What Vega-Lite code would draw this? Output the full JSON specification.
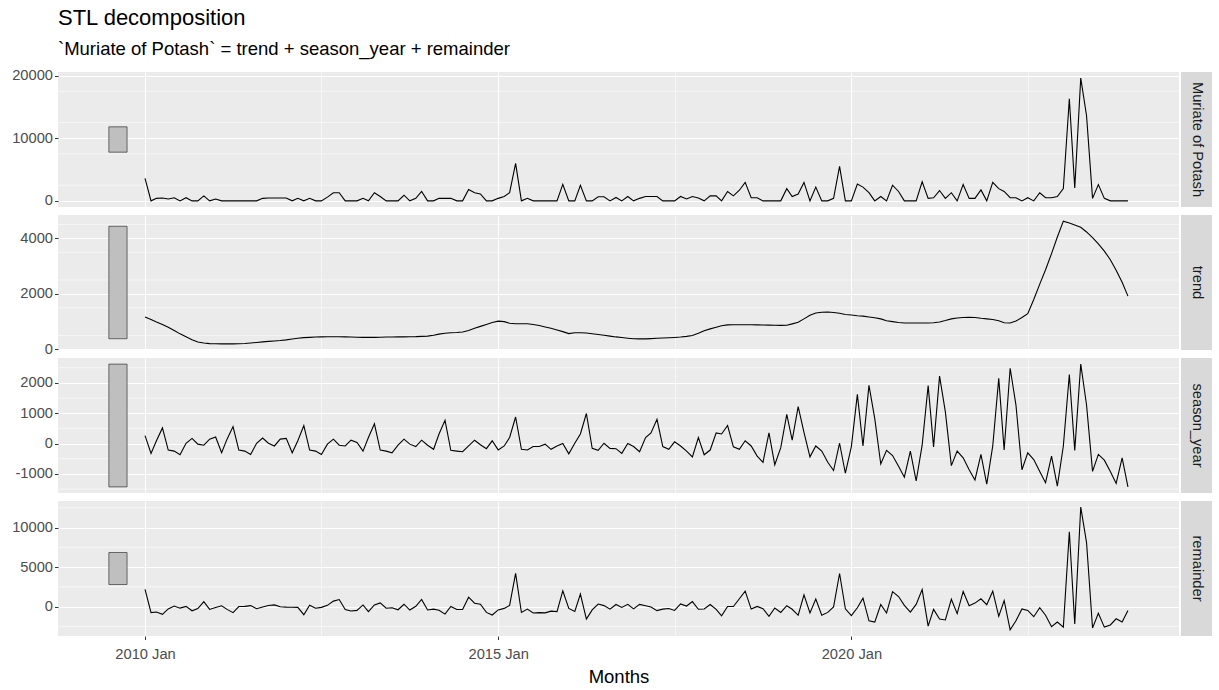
{
  "$schema": "https://vega.github.io/schema/vega-lite/v6.json",
  "background": "white",
  "padding": {"left": 11, "top": 7, "right": 4, "bottom": 4},
  "title": {"text": "STL decomposition", "subtitle": "`Muriate of Potash` = trend + season_year + remainder", "anchor": "start", "frame": "group", "font": "Liberation Sans", "fontSize": 22, "fontWeight": "normal", "color": "#000000", "subtitleFont": "Liberation Sans", "subtitleFontSize": 18.5, "subtitleColor": "#000000", "subtitlePadding": 10, "offset": 8},
  "datasets": {
    "main": [
      {"d":"2010-01-01","m":3600,"t":1170,"s":260,"r":2170},
      {"d":"2010-02-01","m":0,"t":1080,"s":-325,"r":-755},
      {"d":"2010-03-01","m":400,"t":990,"s":90,"r":-680},
      {"d":"2010-04-01","m":450,"t":900,"s":515,"r":-965},
      {"d":"2010-05-01","m":300,"t":800,"s":-215,"r":-285},
      {"d":"2010-06-01","m":500,"t":680,"s":-250,"r":70},
      {"d":"2010-07-01","m":0,"t":560,"s":-370,"r":-190},
      {"d":"2010-08-01","m":500,"t":460,"s":10,"r":30},
      {"d":"2010-09-01","m":0,"t":350,"s":170,"r":-520},
      {"d":"2010-10-01","m":0,"t":270,"s":-20,"r":-250},
      {"d":"2010-11-01","m":800,"t":230,"s":-55,"r":625},
      {"d":"2010-12-01","m":0,"t":210,"s":145,"r":-355},
      {"d":"2011-01-01","m":300,"t":205,"s":215,"r":-120},
      {"d":"2011-02-01","m":0,"t":200,"s":-305,"r":105},
      {"d":"2011-03-01","m":0,"t":200,"s":145,"r":-345},
      {"d":"2011-04-01","m":0,"t":200,"s":560,"r":-760},
      {"d":"2011-05-01","m":0,"t":205,"s":-215,"r":10},
      {"d":"2011-06-01","m":0,"t":215,"s":-250,"r":35},
      {"d":"2011-07-01","m":0,"t":230,"s":-360,"r":130},
      {"d":"2011-08-01","m":0,"t":250,"s":10,"r":-260},
      {"d":"2011-09-01","m":400,"t":270,"s":180,"r":-50},
      {"d":"2011-10-01","m":450,"t":290,"s":10,"r":150},
      {"d":"2011-11-01","m":450,"t":305,"s":-80,"r":225},
      {"d":"2011-12-01","m":450,"t":320,"s":145,"r":-15},
      {"d":"2012-01-01","m":450,"t":345,"s":170,"r":-65},
      {"d":"2012-02-01","m":0,"t":375,"s":-305,"r":-70},
      {"d":"2012-03-01","m":400,"t":405,"s":90,"r":-95},
      {"d":"2012-04-01","m":0,"t":425,"s":595,"r":-1020},
      {"d":"2012-05-01","m":400,"t":435,"s":-215,"r":180},
      {"d":"2012-06-01","m":0,"t":445,"s":-250,"r":-195},
      {"d":"2012-07-01","m":0,"t":450,"s":-360,"r":-90},
      {"d":"2012-08-01","m":600,"t":455,"s":-20,"r":165},
      {"d":"2012-09-01","m":1300,"t":455,"s":145,"r":700},
      {"d":"2012-10-01","m":1300,"t":455,"s":-55,"r":900},
      {"d":"2012-11-01","m":0,"t":450,"s":-80,"r":-370},
      {"d":"2012-12-01","m":0,"t":445,"s":110,"r":-555},
      {"d":"2013-01-01","m":0,"t":440,"s":35,"r":-475},
      {"d":"2013-02-01","m":400,"t":435,"s":-250,"r":215},
      {"d":"2013-03-01","m":0,"t":435,"s":200,"r":-635},
      {"d":"2013-04-01","m":1300,"t":435,"s":650,"r":215},
      {"d":"2013-05-01","m":700,"t":440,"s":-215,"r":475},
      {"d":"2013-06-01","m":0,"t":445,"s":-250,"r":-195},
      {"d":"2013-07-01","m":0,"t":445,"s":-305,"r":-140},
      {"d":"2013-08-01","m":0,"t":450,"s":-55,"r":-395},
      {"d":"2013-09-01","m":900,"t":450,"s":145,"r":305},
      {"d":"2013-10-01","m":0,"t":455,"s":-20,"r":-435},
      {"d":"2013-11-01","m":400,"t":460,"s":-100,"r":40},
      {"d":"2013-12-01","m":1500,"t":470,"s":110,"r":920},
      {"d":"2014-01-01","m":0,"t":480,"s":-55,"r":-425},
      {"d":"2014-02-01","m":0,"t":510,"s":-190,"r":-320},
      {"d":"2014-03-01","m":400,"t":550,"s":315,"r":-465},
      {"d":"2014-04-01","m":400,"t":580,"s":765,"r":-945},
      {"d":"2014-05-01","m":400,"t":600,"s":-225,"r":25},
      {"d":"2014-06-01","m":0,"t":610,"s":-250,"r":-360},
      {"d":"2014-07-01","m":0,"t":630,"s":-270,"r":-360},
      {"d":"2014-08-01","m":1800,"t":680,"s":-80,"r":1200},
      {"d":"2014-09-01","m":1300,"t":760,"s":110,"r":430},
      {"d":"2014-10-01","m":1100,"t":830,"s":-40,"r":310},
      {"d":"2014-11-01","m":0,"t":900,"s":-170,"r":-730},
      {"d":"2014-12-01","m":0,"t":970,"s":90,"r":-1060},
      {"d":"2015-01-01","m":400,"t":1020,"s":-210,"r":-410},
      {"d":"2015-02-01","m":700,"t":1000,"s":-80,"r":-220},
      {"d":"2015-03-01","m":1300,"t":940,"s":200,"r":160},
      {"d":"2015-04-01","m":6000,"t":925,"s":875,"r":4200},
      {"d":"2015-05-01","m":0,"t":925,"s":-190,"r":-735},
      {"d":"2015-06-01","m":400,"t":925,"s":-215,"r":-310},
      {"d":"2015-07-01","m":0,"t":900,"s":-100,"r":-800},
      {"d":"2015-08-01","m":0,"t":860,"s":-100,"r":-760},
      {"d":"2015-09-01","m":0,"t":810,"s":-20,"r":-790},
      {"d":"2015-10-01","m":0,"t":760,"s":-190,"r":-570},
      {"d":"2015-11-01","m":0,"t":700,"s":-80,"r":-620},
      {"d":"2015-12-01","m":2650,"t":640,"s":0,"r":2010},
      {"d":"2016-01-01","m":0,"t":570,"s":-340,"r":-230},
      {"d":"2016-02-01","m":0,"t":600,"s":10,"r":-610},
      {"d":"2016-03-01","m":2500,"t":600,"s":315,"r":1585},
      {"d":"2016-04-01","m":0,"t":590,"s":990,"r":-1580},
      {"d":"2016-05-01","m":0,"t":565,"s":-160,"r":-405},
      {"d":"2016-06-01","m":650,"t":540,"s":-225,"r":335},
      {"d":"2016-07-01","m":650,"t":510,"s":10,"r":130},
      {"d":"2016-08-01","m":0,"t":480,"s":-160,"r":-320},
      {"d":"2016-09-01","m":550,"t":450,"s":-170,"r":270},
      {"d":"2016-10-01","m":0,"t":430,"s":-325,"r":-105},
      {"d":"2016-11-01","m":700,"t":405,"s":0,"r":295},
      {"d":"2016-12-01","m":0,"t":385,"s":-100,"r":-285},
      {"d":"2017-01-01","m":400,"t":380,"s":-270,"r":290},
      {"d":"2017-02-01","m":700,"t":380,"s":200,"r":120},
      {"d":"2017-03-01","m":700,"t":390,"s":350,"r":-40},
      {"d":"2017-04-01","m":700,"t":400,"s":800,"r":-500},
      {"d":"2017-05-01","m":0,"t":410,"s":-100,"r":-310},
      {"d":"2017-06-01","m":0,"t":420,"s":-190,"r":-230},
      {"d":"2017-07-01","m":0,"t":430,"s":55,"r":-485},
      {"d":"2017-08-01","m":700,"t":445,"s":-80,"r":335},
      {"d":"2017-09-01","m":300,"t":470,"s":-250,"r":80},
      {"d":"2017-10-01","m":700,"t":500,"s":-440,"r":640},
      {"d":"2017-11-01","m":450,"t":580,"s":200,"r":-330},
      {"d":"2017-12-01","m":0,"t":670,"s":-370,"r":-300},
      {"d":"2018-01-01","m":800,"t":740,"s":-215,"r":275},
      {"d":"2018-02-01","m":800,"t":800,"s":350,"r":-350},
      {"d":"2018-03-01","m":0,"t":850,"s":315,"r":-1165},
      {"d":"2018-04-01","m":1500,"t":885,"s":595,"r":20},
      {"d":"2018-05-01","m":800,"t":890,"s":-110,"r":20},
      {"d":"2018-06-01","m":1700,"t":890,"s":-190,"r":1000},
      {"d":"2018-07-01","m":2950,"t":890,"s":90,"r":1970},
      {"d":"2018-08-01","m":500,"t":890,"s":-80,"r":-310},
      {"d":"2018-09-01","m":500,"t":885,"s":-415,"r":30},
      {"d":"2018-10-01","m":0,"t":880,"s":-620,"r":-260},
      {"d":"2018-11-01","m":0,"t":875,"s":350,"r":-1225},
      {"d":"2018-12-01","m":0,"t":870,"s":-700,"r":-170},
      {"d":"2019-01-01","m":0,"t":865,"s":-135,"r":-730},
      {"d":"2019-02-01","m":1950,"t":870,"s":965,"r":115},
      {"d":"2019-03-01","m":700,"t":920,"s":110,"r":-330},
      {"d":"2019-04-01","m":1100,"t":975,"s":1215,"r":-1090},
      {"d":"2019-05-01","m":2950,"t":1100,"s":370,"r":1480},
      {"d":"2019-06-01","m":0,"t":1230,"s":-440,"r":-790},
      {"d":"2019-07-01","m":2200,"t":1310,"s":-80,"r":970},
      {"d":"2019-08-01","m":0,"t":1340,"s":-250,"r":-1090},
      {"d":"2019-09-01","m":0,"t":1345,"s":-620,"r":-725},
      {"d":"2019-10-01","m":400,"t":1330,"s":-890,"r":-40},
      {"d":"2019-11-01","m":5500,"t":1300,"s":10,"r":4190},
      {"d":"2019-12-01","m":0,"t":1260,"s":-980,"r":-280},
      {"d":"2020-01-01","m":0,"t":1240,"s":-100,"r":-1140},
      {"d":"2020-02-01","m":2700,"t":1215,"s":1620,"r":-135},
      {"d":"2020-03-01","m":2200,"t":1200,"s":-80,"r":1080},
      {"d":"2020-04-01","m":1300,"t":1170,"s":1920,"r":-1790},
      {"d":"2020-05-01","m":0,"t":1140,"s":820,"r":-1960},
      {"d":"2020-06-01","m":700,"t":1100,"s":-675,"r":275},
      {"d":"2020-07-01","m":0,"t":1030,"s":-225,"r":-805},
      {"d":"2020-08-01","m":2500,"t":1000,"s":-395,"r":1895},
      {"d":"2020-09-01","m":1500,"t":970,"s":-750,"r":1280},
      {"d":"2020-10-01","m":0,"t":950,"s":-1110,"r":160},
      {"d":"2020-11-01","m":0,"t":950,"s":-250,"r":-700},
      {"d":"2020-12-01","m":0,"t":950,"s":-1235,"r":285},
      {"d":"2021-01-01","m":3050,"t":950,"s":-55,"r":2155},
      {"d":"2021-02-01","m":400,"t":950,"s":1910,"r":-2460},
      {"d":"2021-03-01","m":500,"t":960,"s":-110,"r":-350},
      {"d":"2021-04-01","m":1650,"t":990,"s":2225,"r":-1565},
      {"d":"2021-05-01","m":400,"t":1040,"s":1045,"r":-1685},
      {"d":"2021-06-01","m":1300,"t":1100,"s":-730,"r":930},
      {"d":"2021-07-01","m":0,"t":1130,"s":-250,"r":-880},
      {"d":"2021-08-01","m":2600,"t":1150,"s":-470,"r":1920},
      {"d":"2021-09-01","m":400,"t":1160,"s":-865,"r":105},
      {"d":"2021-10-01","m":400,"t":1150,"s":-1200,"r":450},
      {"d":"2021-11-01","m":1750,"t":1120,"s":-360,"r":990},
      {"d":"2021-12-01","m":0,"t":1100,"s":-1340,"r":240},
      {"d":"2022-01-01","m":2950,"t":1075,"s":-80,"r":1955},
      {"d":"2022-02-01","m":1950,"t":1030,"s":2150,"r":-1230},
      {"d":"2022-03-01","m":1500,"t":960,"s":-215,"r":755},
      {"d":"2022-04-01","m":500,"t":950,"s":2485,"r":-2935},
      {"d":"2022-05-01","m":500,"t":1020,"s":1270,"r":-1790},
      {"d":"2022-06-01","m":0,"t":1150,"s":-865,"r":-285},
      {"d":"2022-07-01","m":500,"t":1290,"s":-305,"r":-485},
      {"d":"2022-08-01","m":0,"t":1800,"s":-530,"r":-1270},
      {"d":"2022-09-01","m":1300,"t":2350,"s":-920,"r":-130},
      {"d":"2022-10-01","m":500,"t":2870,"s":-1290,"r":-1080},
      {"d":"2022-11-01","m":500,"t":3450,"s":-415,"r":-2535},
      {"d":"2022-12-01","m":700,"t":4050,"s":-1405,"r":-1945},
      {"d":"2023-01-01","m":1950,"t":4620,"s":-80,"r":-2590},
      {"d":"2023-02-01","m":16300,"t":4550,"s":2280,"r":9470},
      {"d":"2023-03-01","m":2050,"t":4480,"s":-225,"r":-2205},
      {"d":"2023-04-01","m":19600,"t":4400,"s":2620,"r":12580},
      {"d":"2023-05-01","m":13600,"t":4230,"s":1270,"r":8100},
      {"d":"2023-06-01","m":400,"t":4030,"s":-920,"r":-2710},
      {"d":"2023-07-01","m":2600,"t":3800,"s":-360,"r":-840},
      {"d":"2023-08-01","m":400,"t":3540,"s":-550,"r":-2590},
      {"d":"2023-09-01","m":0,"t":3230,"s":-920,"r":-2310},
      {"d":"2023-10-01","m":0,"t":2850,"s":-1315,"r":-1535},
      {"d":"2023-11-01","m":0,"t":2420,"s":-470,"r":-1950},
      {"d":"2023-12-01","m":0,"t":1920,"s":-1430,"r":-490}
    ],
    "bars": [
      {"k":"m","x1":"2009-06-28","x2":"2009-09-30","y1":7775,"y2":11825},
      {"k":"t","x1":"2009-06-28","x2":"2009-09-30","y1":385,"y2":4435},
      {"k":"s","x1":"2009-06-28","x2":"2009-09-30","y1":-1430,"y2":2620},
      {"k":"r","x1":"2009-06-28","x2":"2009-09-30","y1":2797,"y2":6847}
    ],
    "hminor": [
      {"k":"m","v":2500},{"k":"m","v":7500},{"k":"m","v":12500},{"k":"m","v":17500},
      {"k":"t","v":500},{"k":"t","v":1500},{"k":"t","v":2500},{"k":"t","v":3500},{"k":"t","v":4500},
      {"k":"s","v":-1500},{"k":"s","v":-500},{"k":"s","v":500},{"k":"s","v":1500},{"k":"s","v":2500},
      {"k":"r","v":-2500},{"k":"r","v":2500},{"k":"r","v":7500},{"k":"r","v":12500}
    ],
    "strips": [
      {"k":"m","label":"Muriate of Potash"},
      {"k":"t","label":"trend"},
      {"k":"s","label":"season_year"},
      {"k":"r","label":"remainder"}
    ]
  },
  "columns": 2,
  "spacing": {"row": 8, "column": 2},
  "bounds": "flush",
  "concat": [
    {
      "width": 1121, "height": 135,
      "layer": [
        {
          "data": {"name": "hminor"},
          "transform": [{"filter": "datum.k == 'm'"}],
          "mark": {"type": "rule", "color": "#FFFFFF", "strokeWidth": 0.55},
          "encoding": {"y": {"field": "v", "type": "quantitative"}}
        },
        {
          "data": {"name": "bars"},
          "transform": [{"filter": "datum.k == 'm'"}],
          "mark": {"type": "rect", "fill": "#BFBFBF", "stroke": "#333333", "strokeWidth": 0.7},
          "encoding": {
            "x": {"field": "x1", "type": "temporal", "scale": {"type": "utc", "domain": [{"year": 2008, "month": 10, "date": 8, "utc": true}, {"year": 2024, "month": 8, "date": 21, "utc": true}]}, "axis": {"values": [{"year": 2010, "month": 1, "date": 1, "utc": true}, {"year": 2012, "month": 7, "date": 1, "utc": true}, {"year": 2015, "month": 1, "date": 1, "utc": true}, {"year": 2017, "month": 7, "date": 1, "utc": true}, {"year": 2020, "month": 1, "date": 1, "utc": true}, {"year": 2022, "month": 7, "date": 1, "utc": true}], "labels": false, "ticks": false, "title": null, "gridWidth": {"condition": {"test": "utcmonth(datum.value) == 0", "value": 1.1}, "value": 0.55}}},
            "x2": {"field": "x2"},
            "y": {"field": "y1", "type": "quantitative", "scale": {"domain": [-980, 20580], "nice": false, "zero": false}, "axis": {"values": [0, 5000, 10000, 15000, 20000], "format": "d", "title": null}},
            "y2": {"field": "y2"}
          }
        },
        {
          "data": {"name": "main"},
          "mark": {"type": "line", "color": "#000000", "strokeWidth": 1.1},
          "encoding": {
            "x": {"field": "d", "type": "temporal"},
            "y": {"field": "m", "type": "quantitative"}
          }
        }
      ]
    },
    {
      "width": 31, "height": 135,
      "view": {"fill": "#D9D9D9", "stroke": null},
      "data": {"name": "strips"},
      "transform": [{"filter": "datum.k == 'm'"}],
      "mark": {"type": "text", "angle": 90, "font": "Liberation Sans", "fontSize": 14.7, "color": "#1A1A1A", "align": "center", "baseline": "middle"},
      "encoding": {"text": {"field": "label"}}
    },
    {
      "width": 1121, "height": 135,
      "layer": [
        {
          "data": {"name": "hminor"},
          "transform": [{"filter": "datum.k == 't'"}],
          "mark": {"type": "rule", "color": "#FFFFFF", "strokeWidth": 0.55},
          "encoding": {"y": {"field": "v", "type": "quantitative"}}
        },
        {
          "data": {"name": "bars"},
          "transform": [{"filter": "datum.k == 't'"}],
          "mark": {"type": "rect", "fill": "#BFBFBF", "stroke": "#333333", "strokeWidth": 0.7},
          "encoding": {
            "x": {"field": "x1", "type": "temporal", "scale": {"type": "utc", "domain": [{"year": 2008, "month": 10, "date": 8, "utc": true}, {"year": 2024, "month": 8, "date": 21, "utc": true}]}, "axis": {"values": [{"year": 2010, "month": 1, "date": 1, "utc": true}, {"year": 2012, "month": 7, "date": 1, "utc": true}, {"year": 2015, "month": 1, "date": 1, "utc": true}, {"year": 2017, "month": 7, "date": 1, "utc": true}, {"year": 2020, "month": 1, "date": 1, "utc": true}, {"year": 2022, "month": 7, "date": 1, "utc": true}], "labels": false, "ticks": false, "title": null, "gridWidth": {"condition": {"test": "utcmonth(datum.value) == 0", "value": 1.1}, "value": 0.55}}},
            "x2": {"field": "x2"},
            "y": {"field": "y1", "type": "quantitative", "scale": {"domain": [-21, 4841], "nice": false, "zero": false}, "axis": {"values": [0, 1000, 2000, 3000, 4000], "format": "d", "title": null}},
            "y2": {"field": "y2"}
          }
        },
        {
          "data": {"name": "main"},
          "mark": {"type": "line", "color": "#000000", "strokeWidth": 1.1},
          "encoding": {
            "x": {"field": "d", "type": "temporal"},
            "y": {"field": "t", "type": "quantitative"}
          }
        }
      ]
    },
    {
      "width": 31, "height": 135,
      "view": {"fill": "#D9D9D9", "stroke": null},
      "data": {"name": "strips"},
      "transform": [{"filter": "datum.k == 't'"}],
      "mark": {"type": "text", "angle": 90, "font": "Liberation Sans", "fontSize": 14.7, "color": "#1A1A1A", "align": "center", "baseline": "middle"},
      "encoding": {"text": {"field": "label"}}
    },
    {
      "width": 1121, "height": 135,
      "layer": [
        {
          "data": {"name": "hminor"},
          "transform": [{"filter": "datum.k == 's'"}],
          "mark": {"type": "rule", "color": "#FFFFFF", "strokeWidth": 0.55},
          "encoding": {"y": {"field": "v", "type": "quantitative"}}
        },
        {
          "data": {"name": "bars"},
          "transform": [{"filter": "datum.k == 's'"}],
          "mark": {"type": "rect", "fill": "#BFBFBF", "stroke": "#333333", "strokeWidth": 0.7},
          "encoding": {
            "x": {"field": "x1", "type": "temporal", "scale": {"type": "utc", "domain": [{"year": 2008, "month": 10, "date": 8, "utc": true}, {"year": 2024, "month": 8, "date": 21, "utc": true}]}, "axis": {"values": [{"year": 2010, "month": 1, "date": 1, "utc": true}, {"year": 2012, "month": 7, "date": 1, "utc": true}, {"year": 2015, "month": 1, "date": 1, "utc": true}, {"year": 2017, "month": 7, "date": 1, "utc": true}, {"year": 2020, "month": 1, "date": 1, "utc": true}, {"year": 2022, "month": 7, "date": 1, "utc": true}], "labels": false, "ticks": false, "title": null, "gridWidth": {"condition": {"test": "utcmonth(datum.value) == 0", "value": 1.1}, "value": 0.55}}},
            "x2": {"field": "x2"},
            "y": {"field": "y1", "type": "quantitative", "scale": {"domain": [-1632, 2822], "nice": false, "zero": false}, "axis": {"values": [-1000, 0, 1000, 2000], "format": "d", "title": null, "labelExpr": "replace(datum.label, '\u2212', '-')"}},
            "y2": {"field": "y2"}
          }
        },
        {
          "data": {"name": "main"},
          "mark": {"type": "line", "color": "#000000", "strokeWidth": 1.1},
          "encoding": {
            "x": {"field": "d", "type": "temporal"},
            "y": {"field": "s", "type": "quantitative"}
          }
        }
      ]
    },
    {
      "width": 31, "height": 135,
      "view": {"fill": "#D9D9D9", "stroke": null},
      "data": {"name": "strips"},
      "transform": [{"filter": "datum.k == 's'"}],
      "mark": {"type": "text", "angle": 90, "font": "Liberation Sans", "fontSize": 14.7, "color": "#1A1A1A", "align": "center", "baseline": "middle"},
      "encoding": {"text": {"field": "label"}}
    },
    {
      "width": 1121, "height": 135,
      "layer": [
        {
          "data": {"name": "hminor"},
          "transform": [{"filter": "datum.k == 'r'"}],
          "mark": {"type": "rule", "color": "#FFFFFF", "strokeWidth": 0.55},
          "encoding": {"y": {"field": "v", "type": "quantitative"}}
        },
        {
          "data": {"name": "bars"},
          "transform": [{"filter": "datum.k == 'r'"}],
          "mark": {"type": "rect", "fill": "#BFBFBF", "stroke": "#333333", "strokeWidth": 0.7},
          "encoding": {
            "x": {"field": "x1", "type": "temporal", "scale": {"type": "utc", "domain": [{"year": 2008, "month": 10, "date": 8, "utc": true}, {"year": 2024, "month": 8, "date": 21, "utc": true}]}, "axis": {"values": [{"year": 2010, "month": 1, "date": 1, "utc": true}, {"year": 2012, "month": 7, "date": 1, "utc": true}, {"year": 2015, "month": 1, "date": 1, "utc": true}, {"year": 2017, "month": 7, "date": 1, "utc": true}, {"year": 2020, "month": 1, "date": 1, "utc": true}, {"year": 2022, "month": 7, "date": 1, "utc": true}], "title": "Months", "labelFlush": false, "labelOverlap": false, "labelPadding": 7, "titlePadding": 6, "labelExpr": "utcmonth(datum.value) == 0 ? utcFormat(datum.value, '%Y %b') : ''", "gridWidth": {"condition": {"test": "utcmonth(datum.value) == 0", "value": 1.1}, "value": 0.55}, "tickOpacity": {"condition": {"test": "utcmonth(datum.value) != 0", "value": 0}, "value": 1}}},
            "x2": {"field": "x2"},
            "y": {"field": "y1", "type": "quantitative", "scale": {"domain": [-3711, 13356], "nice": false, "zero": false}, "axis": {"values": [0, 5000, 10000], "format": "d", "title": null}},
            "y2": {"field": "y2"}
          }
        },
        {
          "data": {"name": "main"},
          "mark": {"type": "line", "color": "#000000", "strokeWidth": 1.1},
          "encoding": {
            "x": {"field": "d", "type": "temporal"},
            "y": {"field": "r", "type": "quantitative"}
          }
        }
      ]
    },
    {
      "width": 31, "height": 135,
      "view": {"fill": "#D9D9D9", "stroke": null},
      "data": {"name": "strips"},
      "transform": [{"filter": "datum.k == 'r'"}],
      "mark": {"type": "text", "angle": 90, "font": "Liberation Sans", "fontSize": 14.7, "color": "#1A1A1A", "align": "center", "baseline": "middle"},
      "encoding": {"text": {"field": "label"}}
    }
  ],
  "config": {
    "view": {"fill": "#EBEBEB", "stroke": null},
    "axis": {"labelFont": "Liberation Sans", "labelFontSize": 14.7, "labelColor": "#4D4D4D", "tickColor": "#333333", "tickSize": 3.5, "tickWidth": 1, "domain": false, "gridColor": "#FFFFFF", "gridWidth": 1.1, "labelPadding": 2, "titleFont": "Liberation Sans", "titleFontSize": 18.5, "titleFontWeight": "normal", "titleColor": "#000000", "titlePadding": 4}
  }
}
